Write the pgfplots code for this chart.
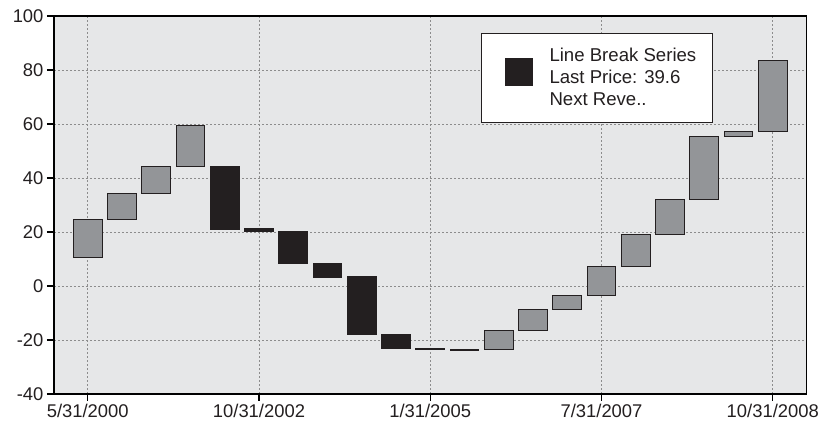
\documentclass[border=0pt]{standalone}
\usepackage{pgfplots}
\usepackage{pgfplotstable}
\pgfplotsset{compat=1.18}
\usepackage{fontspec}
\setmainfont{Liberation Sans}
\definecolor{bg}{HTML}{E6E7E8}
\definecolor{boxgray}{HTML}{939598}
\definecolor{boxblack}{HTML}{231F20}
\definecolor{txt}{HTML}{231F20}

\pgfplotstableread{
x lo hi
0 10.7 24.6
1 24.6 34.2
2 34.2 44.1
3 44.1 59.6
12 -23.5 -16.3
13 -16.3 -8.6
14 -8.6 -3.5
15 -3.6 7.4
16 7.4 19.1
17 19.1 32.0
18 32.0 55.4
19 55.3 57.4
20 57.2 83.6
}\upboxes

\pgfplotstableread{
x lo hi
4 20.9 44.2
5 20.0 21.3
6 8.5 20.2
7 3.1 8.5
8 -18.1 3.5
9 -23.1 -18.1
10 -23.5 -23.1
11 -24.0 -23.5
}\downboxes

\pgfplotsset{common/.style={
  scale only axis, width=752.7pt, height=378pt,
  xmin=-0.984, xmax=20.99, ymin=-40, ymax=100,
  at={(0,0)}, anchor=south west,
  ybar stacked, stack negative=on previous, bar width=0.84,
}}

\begin{document}
\begin{tikzpicture}
\path[use as bounding box] (-54pt,-36pt) rectangle (769pt,394pt);
\begin{axis}[common,
  axis background/.style={fill=bg},
  axis line style={draw=black, line width=1.1pt},
  xtick={0,5,10,15,20},
  xticklabels={5/31/2000,10/31/2002,1/31/2005,7/31/2007,10/31/2008},
  ytick={-40,-20,0,20,40,60,80,100},
  tick pos=left, tick align=outside, major tick length=7pt,
  tick style={draw=black, line width=1.1pt},
  grid=major,
  major grid style={draw=black!45, line width=0.6pt, dash pattern=on 2pt off 2pt},
  tick label style={font=\fontsize{18.4}{22}\selectfont, text=txt},
  /pgf/number format/assume math mode=true,
  /pgf/number format/1000 sep={},
]
\addplot[draw=none, fill=none] table[x=x, y=lo] {\upboxes};
\addplot[draw=boxblack, line width=1pt, fill=boxgray] table[x=x, y expr=\thisrow{hi}-\thisrow{lo}] {\upboxes};
\end{axis}
\begin{axis}[common, hide axis,
  legend style={at={(0.5673,0.9558)}, anchor=north west, draw=boxblack, line width=1pt,
    fill=white, inner xsep=16pt, inner ysep=15pt,
    font=\fontsize{18.6}{22}\selectfont, text=txt,
    nodes={align=left, inner sep=0pt}, legend cell align=left},
  legend image code/.code={\path[draw=none, fill=none] (-7pt,-20pt) rectangle (45pt,20pt);
    \fill[boxblack, draw=none] (0pt,-8pt) rectangle (28pt,20pt);},
]
\addplot[draw=none, fill=none, forget plot] table[x=x, y=lo] {\downboxes};
\addplot[draw=boxblack, line width=1pt, fill=boxblack] table[x=x, y expr=\thisrow{hi}-\thisrow{lo}] {\downboxes};
\addlegendentry{Line Break Series\\Last Price: 39.6\\Next Reve..}
\end{axis}
\end{tikzpicture}
\end{document}
